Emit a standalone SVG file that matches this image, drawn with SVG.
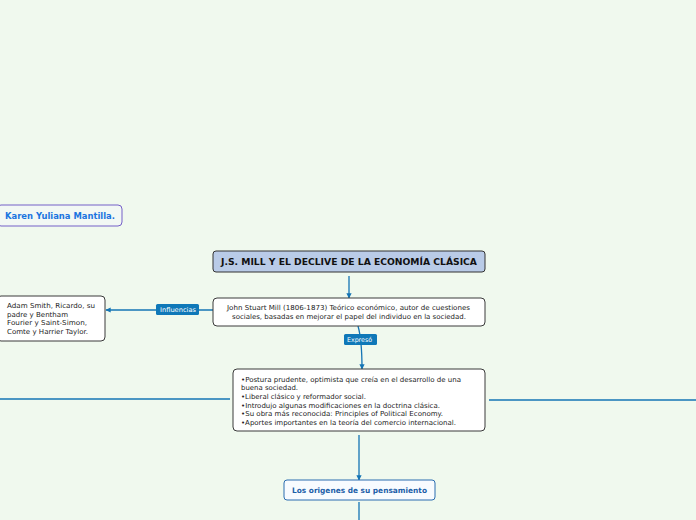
<svg xmlns="http://www.w3.org/2000/svg" width="696" height="520" viewBox="0 0 696 520">
<style>
text{font-family:"DejaVu Sans",Verdana,sans-serif;}
.c{fill:none;stroke:#1474b4;stroke-width:1.3;}
.lbl{fill:#0f78b8;}
.lt{fill:#fff;font-size:6.5px;}
.b{fill:#fff;stroke:#3a3a3a;stroke-width:1;}
.t{font-size:6.9px;fill:#222;}
</style>
<defs>
<marker id="ah" viewBox="0 0 10 10" refX="9" refY="5" markerWidth="4" markerHeight="4" orient="auto"><path d="M0,0L10,5L0,10z" fill="#1474b4"/></marker>
</defs>
<rect width="696" height="520" fill="#f0f9ee"/>
<g id="connectors">
<path class="c" d="M349,276V298" marker-end="url(#ah)"/>
<path class="c" d="M213,310H106" marker-end="url(#ah)"/>
<path class="c" d="M358,326Q362,340 362,369" marker-end="url(#ah)"/>
<path class="c" d="M0,399H230"/>
<path class="c" d="M489,400H696"/>
<path class="c" d="M359,435V480" marker-end="url(#ah)"/>
<path class="c" d="M359,502V520"/>
<rect class="lbl" x="156" y="304" width="43" height="11" rx="1.5"/>
<text class="lt" x="160" y="312" textLength="36" lengthAdjust="spacingAndGlyphs">Influencias</text>
<rect class="lbl" x="344" y="334" width="33" height="11" rx="1.5"/>
<text class="lt" x="347" y="342" textLength="25" lengthAdjust="spacingAndGlyphs">Expresó</text>
</g>
<g id="karen">
<rect x="-3" y="205" width="125" height="21" rx="4" fill="#f2f8f4" stroke="#7560c8" stroke-width="1"/>
<text x="5" y="219" font-size="8" font-weight="bold" fill="#1b74e0" textLength="110" lengthAdjust="spacingAndGlyphs">Karen Yuliana Mantilla.</text>
</g>
<g id="title">
<rect x="213" y="251" width="272" height="21" rx="3" fill="#b9cbe7" stroke="#333" stroke-width="1"/>
<text x="221" y="265" font-size="8" font-weight="bold" fill="#111" textLength="256" lengthAdjust="spacingAndGlyphs">J.S. MILL Y EL DECLIVE DE LA ECONOMÍA CLÁSICA</text>
</g>
<g id="john">
<rect class="b" x="213" y="298" width="272" height="28" rx="4"/>
<text class="t" x="227" y="310" textLength="243" lengthAdjust="spacingAndGlyphs">John Stuart Mill (1806-1873) Teórico económico, autor de cuestiones</text>
<text class="t" x="232" y="319" textLength="234" lengthAdjust="spacingAndGlyphs">sociales, basadas en mejorar el papel del individuo en la sociedad.</text>
</g>
<g id="adam">
<rect class="b" x="-3" y="296" width="108" height="45" rx="4"/>
<text class="t" x="7" y="308" textLength="88" lengthAdjust="spacingAndGlyphs">Adam Smith, Ricardo, su</text>
<text class="t" x="7" y="316.5" textLength="61" lengthAdjust="spacingAndGlyphs">padre y Bentham</text>
<text class="t" x="7" y="325" textLength="80" lengthAdjust="spacingAndGlyphs">Fourier y Saint-Simon,</text>
<text class="t" x="7" y="333.5" textLength="81" lengthAdjust="spacingAndGlyphs">Comte y Harrier Taylor.</text>
</g>
<g id="ideas">
<rect class="b" x="233" y="369" width="252" height="62" rx="4"/>
<text class="t" x="241" y="382" textLength="220" lengthAdjust="spacingAndGlyphs">•Postura prudente, optimista que creía en el desarrollo de una</text>
<text class="t" x="241" y="390" textLength="57" lengthAdjust="spacingAndGlyphs">buena sociedad.</text>
<text class="t" x="241" y="399" textLength="125" lengthAdjust="spacingAndGlyphs">•Liberal clásico y reformador social.</text>
<text class="t" x="241" y="407.5" textLength="199" lengthAdjust="spacingAndGlyphs">•Introdujo algunas modificaciones en la doctrina clásica.</text>
<text class="t" x="241" y="416" textLength="202" lengthAdjust="spacingAndGlyphs">•Su obra más reconocida: Principles of Political Economy.</text>
<text class="t" x="241" y="424.5" textLength="215" lengthAdjust="spacingAndGlyphs">•Aportes importantes en la teoría del comercio internacional.</text>
</g>
<g id="origenes">
<rect x="284" y="480" width="151" height="20" rx="3" fill="#f8fbff" stroke="#2a6cb0" stroke-width="1"/>
<text x="292" y="493" font-size="7.5" font-weight="bold" fill="#1c5ea8" textLength="135" lengthAdjust="spacingAndGlyphs">Los origenes de su pensamiento</text>
</g>
</svg>
